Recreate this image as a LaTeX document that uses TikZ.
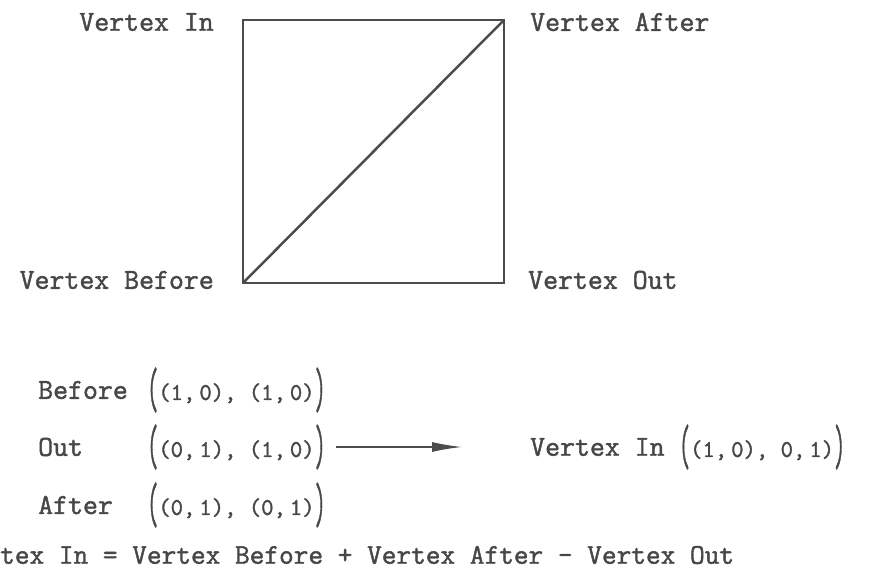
\documentclass[tikz,border=0pt]{standalone}
\usepackage{graphicx}
\usepackage{fontspec}
\newfontfamily\typer[FakeBold=1.5]{Latin Modern Mono}
\usetikzlibrary{arrows.meta, positioning}

\newcommand{\tallparen}[1]{\raisebox{-0.32em}{\scalebox{0.9}[2.4]{#1}}}
\newcommand{\pairs}[1]{\tallparen{(}#1\tallparen{)}}

\begin{document}
\begin{tikzpicture}[
    x=1pt, y=-1pt,
    lbl/.style={inner sep=0pt, font=\typer\fontsize{29}{33}\selectfont, text=black!72},
    tup/.style={inner sep=0pt, font=\typer\fontsize{24}{28}\selectfont, text=black!72},
    edge/.style={line width=2.5pt, draw=black!70},
    arr/.style={-{Latex[length=30pt, width=10pt]}, line width=1.5pt, draw=black!70},
]
\useasboundingbox (0,0) rectangle (871,578);

% Square with its diagonal
\coordinate (sqsw) at (243,283);
\coordinate (sqne) at (504,20);
\draw[edge] (sqsw) rectangle (sqne);
\draw[edge] (sqsw) -- (sqne);

% Corner labels
\node[lbl, anchor=east] (vin) at (214,22) {Vertex In};
\node[lbl, anchor=west] (vafter) at (530,22) {Vertex After};
\node[lbl, anchor=east] (vbefore) at (214,280) {Vertex Before};
\node[lbl, anchor=west] (vout) at (528,280) {Vertex Out};

% Vertex rows
\node[lbl, anchor=west] (rbefore) at (38,390) {Before};
\node[lbl, anchor=west] (rout) at (38,447) {Out};
\node[lbl, anchor=west] (rafter) at (38,505) {After};
\node[tup, anchor=west] (tbefore) at (147,390) {\pairs{(1,\,0), (1,\,0)}};
\node[tup, anchor=west] (tout) at (147,447) {\pairs{(0,\,1), (1,\,0)}};
\node[tup, anchor=west] (tafter) at (147,505) {\pairs{(0,\,1), (0,\,1)}};

% Result
\node[lbl, anchor=west] (rin) at (530,447) {Vertex In};
\node[tup, right=14pt of rin] (tin) {\pairs{(1,\,0), 0,\,1)}};
\draw[arr] ([xshift=10pt]tout.east) -- ([xshift=-68pt]rin.west);

% Equation
\node[lbl, anchor=west, font=\typer\fontsize{28.5}{33}\selectfont] (eqn) at (0,555) {tex In = Vertex Before + Vertex After - Vertex Out};

\end{tikzpicture}
\end{document}
